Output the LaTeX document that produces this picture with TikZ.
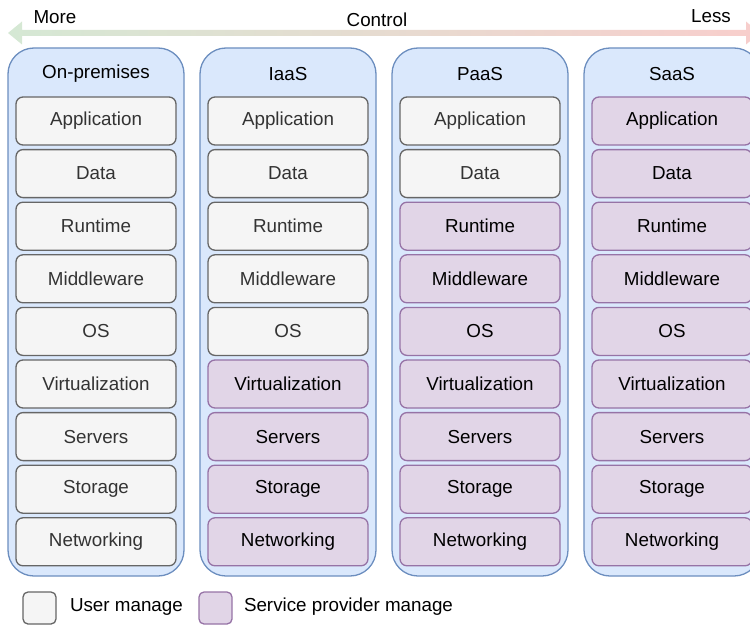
\documentclass[tikz,border=0pt]{standalone}
\usepackage{fontspec}
\setmainfont{Liberation Sans}
\definecolor{colfill}{HTML}{DAE8FC}
\definecolor{colline}{HTML}{6C8EBF}
\definecolor{grayfill}{HTML}{F5F5F5}
\definecolor{grayline}{HTML}{666666}
\definecolor{graytext}{HTML}{333333}
\definecolor{purpfill}{HTML}{E1D5E7}
\definecolor{purpline}{HTML}{9673A6}
\definecolor{arrgreen}{HTML}{D5E8D4}
\definecolor{arrred}{HTML}{F8CECC}
\tikzset{
  every node/.style={font=\fontsize{18.8}{22}\selectfont, inner sep=0pt, outer sep=0pt},
  colbox/.style={draw=colline, fill=colfill, line width=1.3pt, rounded corners=26pt,
    minimum width=176pt, minimum height=528pt, anchor=north west},
  ubox/.style={draw=grayline, fill=grayfill, text=graytext, line width=1.3pt, rounded corners=7pt,
    minimum width=160pt, minimum height=48pt, anchor=north west},
  pbox/.style={draw=purpline, fill=purpfill, text=black, line width=1.3pt, rounded corners=7pt,
    minimum width=160pt, minimum height=48pt, anchor=north west},
  ulegend/.style={draw=grayline, fill=grayfill, line width=1.3pt, rounded corners=5pt,
    minimum width=33pt, minimum height=32pt, anchor=north west},
  plegend/.style={draw=purpline, fill=purpfill, line width=1.3pt, rounded corners=5pt,
    minimum width=33pt, minimum height=32pt, anchor=north west},
  lbl/.style={text=black}
}
\begin{document}
\begin{tikzpicture}[x=1pt,y=-1pt]
\useasboundingbox (0,0) rectangle (750,626);
\clip (0,0) rectangle (750,626);
% control arrow
\shade[left color=arrgreen, right color=arrred]
  (8,33) -- (22,21.5) -- (22,30) -- (746,30) -- (746,21.5) -- (760,33)
  -- (746,44.5) -- (746,36) -- (22,36) -- (22,44.5) -- cycle;
\node[lbl] (more) at (55,17) {More};
\node[lbl] (control) at (377,20) {Control};
\node[lbl] (less) at (711,16) {Less};
% columns
\foreach \c/\title/\first in {0/On-premises/9, 1/IaaS/5, 2/PaaS/2, 3/SaaS/0} {
  \node[colbox] (col\c) at (8+192*\c,48) {};
  \node[lbl] (title\c) at (96+192*\c,74) {\title};
  \foreach \r/\txt in {0/Application, 1/Data, 2/Runtime, 3/Middleware, 4/OS,
                       5/Virtualization, 6/Servers, 7/Storage, 8/Networking} {
    \ifnum\r<\first
      \node[ubox] (b\c-\r) at (16+192*\c,97+52.6*\r) {\txt};
    \else
      \node[pbox] (b\c-\r) at (16+192*\c,97+52.6*\r) {\txt};
    \fi
  }
}
% legend
\node[ulegend] (leguser) at (23,592) {};
\node[lbl, anchor=west] (legusertxt) at (70,607) {User manage};
\node[plegend] (legprov) at (199,592) {};
\node[lbl, anchor=west] (legprovtxt) at (244,607) {Service provider manage};
\end{tikzpicture}
\end{document}
